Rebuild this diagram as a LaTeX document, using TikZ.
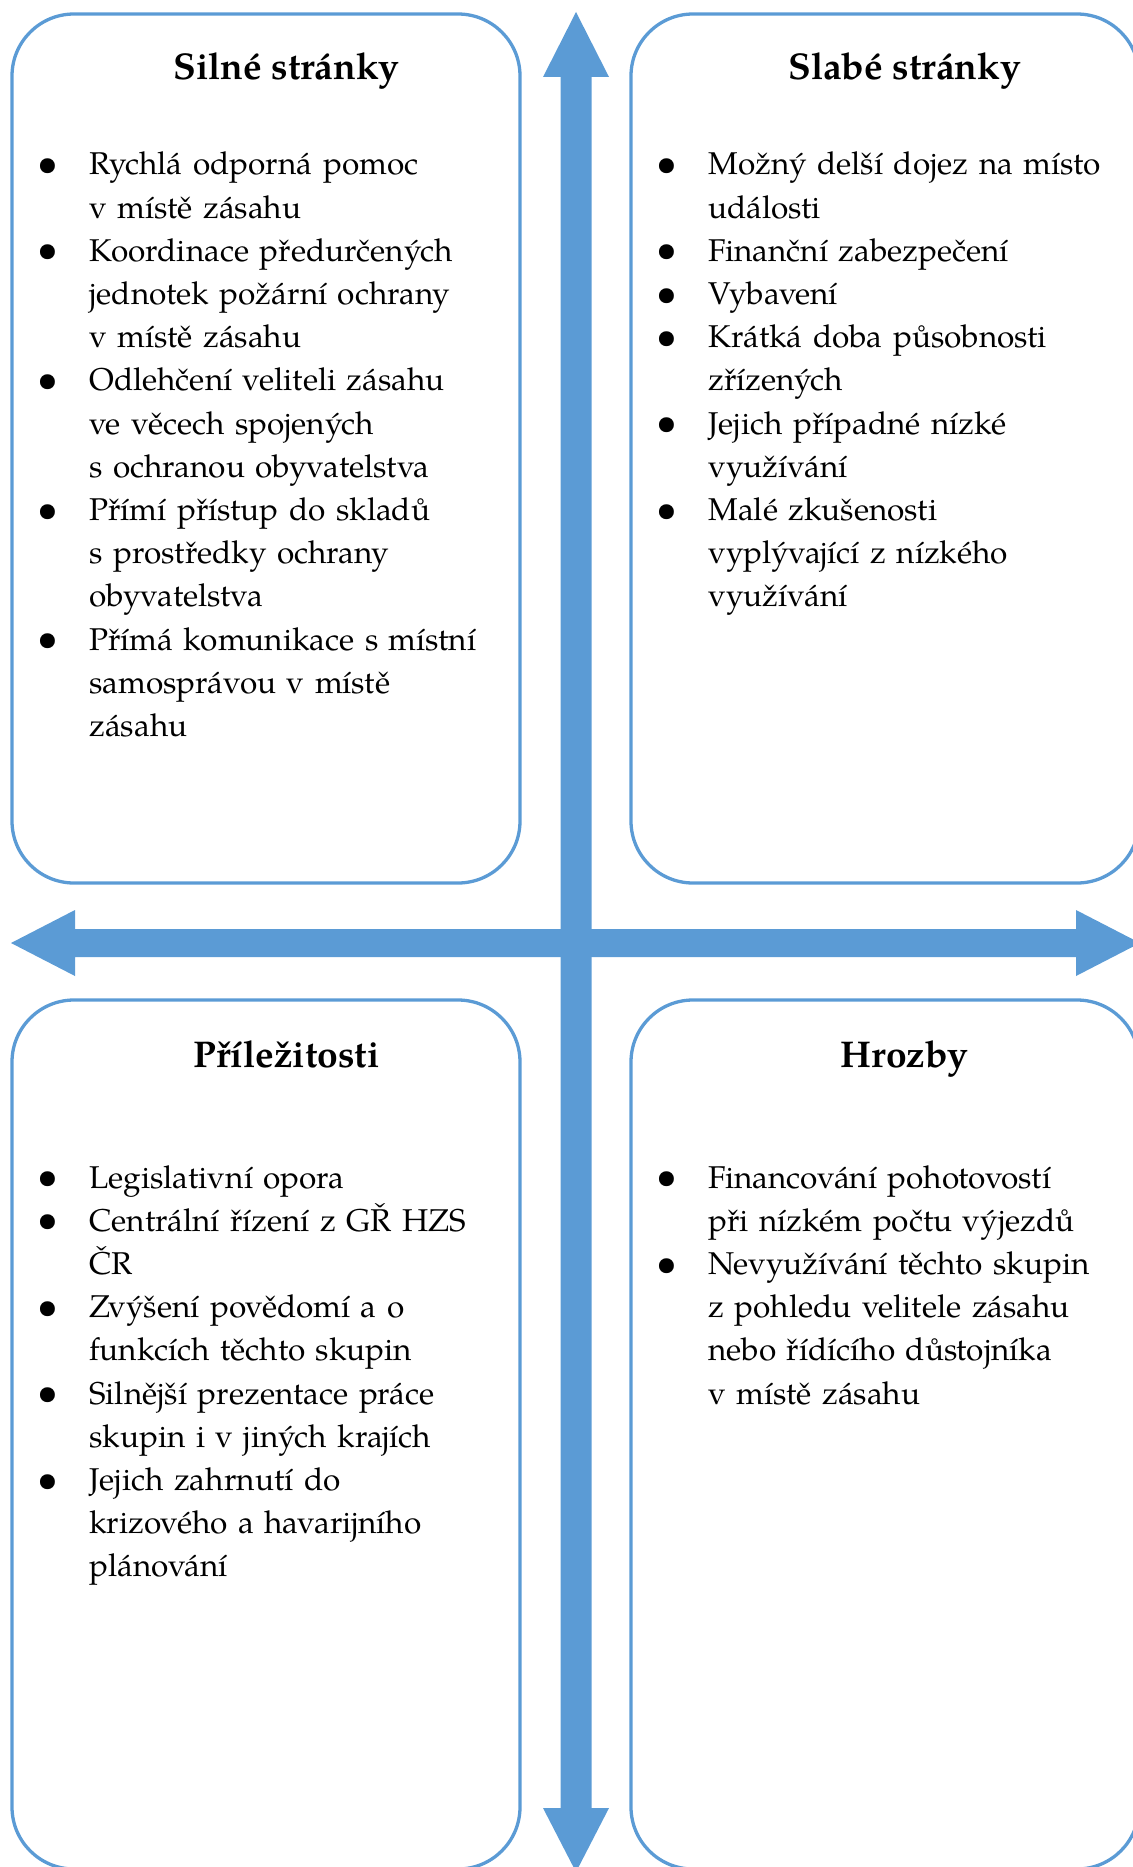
\documentclass[tikz,border=0pt]{standalone}
\usepackage{fontspec}
\setmainfont{texgyrepagella}[Extension=.otf, UprightFont=*-regular, BoldFont=*-bold, ItalicFont=*-italic, BoldItalicFont=*-bolditalic]
\usepackage{tikz}

\definecolor{swotblue}{HTML}{5B9BD5}
\newcommand{\bul}{\leavevmode\llap{\makebox[26pt][l]{\raisebox{-0.3pt}{\scalebox{1.18}{\textbullet}}}}}

\begin{document}
\begin{tikzpicture}[x=0.5pt, y=-0.5pt,
    quad/.style={draw=swotblue, line width=1.65pt, rounded corners=31pt,
      minimum width=254pt, minimum height=434.5pt, inner sep=0pt},
    heading/.style={anchor=base, inner sep=0pt,
      font=\fontsize{18.6pt}{22pt}\selectfont\bfseries},
    items/.style={anchor=base west, text width=215pt, align=left, inner sep=0pt,
      font=\fontsize{15.75pt}{21.6pt}\selectfont}]
  \useasboundingbox (0,0) rectangle (1132,1867);

  % quadrants
  \node[quad] (silne) at (266,448.5) {};
  \node[quad] (slabe) at (885,448.5) {};
  \node[quad] (prilez) at (266,1434.5) {};
  \node[quad] (hrozby) at (885,1434.5) {};

  % horizontal arrow
  \fill[swotblue] (11,943) -- (75,910) -- (75,929) -- (1076,929) -- (1076,910)
    -- (1140,943) -- (1076,976) -- (1076,957) -- (75,957) -- (75,976) -- cycle;

  % vertical arrow
  \fill[swotblue] (576,12) -- (609,77) -- (591.5,77) -- (591.5,1808) -- (609,1808)
    -- (576,1872) -- (543,1808) -- (560.5,1808) -- (560.5,77) -- (543,77) -- cycle;

  % headings
  \node[heading] (silneh) at (286.5,80) {Silné stránky};
  \node[heading] (slabeh) at (904.5,80) {Slabé stránky};
  \node[heading] (prilezh) at (286.5,1067) {Příležitosti};
  \node[heading] (hrozbyh) at (904.5,1067) {Hrozby};

  % S
  \node[items] (silnet) at (89,175) {%
    \bul Rychlá odporná pomoc\\
    v místě zásahu\\
    \bul Koordinace předurčených\\
    jednotek požární ochrany\\
    v místě zásahu\\
    \bul Odlehčení veliteli zásahu\\
    ve věcech spojených\\
    s ochranou obyvatelstva\\
    \bul Přímí přístup do skladů\\
    s prostředky ochrany\\
    obyvatelstva\\
    \bul Přímá komunikace s místní\\
    samosprávou v místě\\
    zásahu};

  % W
  \node[items] (slabet) at (708,175) {%
    \bul Možný delší dojez na místo\\
    události\\
    \bul Finanční zabezpečení\\
    \bul Vybavení\\
    \bul Krátká doba působnosti\\
    zřízených\\
    \bul Jejich případné nízké\\
    využívání\\
    \bul Malé zkušenosti\\
    vyplývající z nízkého\\
    využívání};

  % O
  \node[items] (prilezt) at (89,1188) {%
    \bul Legislativní opora\\
    \bul Centrální řízení z GŘ HZS\\
    ČR\\
    \bul Zvýšení povědomí a o\\
    funkcích těchto skupin\\
    \bul Silnější prezentace práce\\
    skupin i v jiných krajích\\
    \bul Jejich zahrnutí do\\
    krizového a havarijního\\
    plánování};

  % T
  \node[items] (hrozbyt) at (708,1188) {%
    \bul Financování pohotovostí\\
    při nízkém počtu výjezdů\\
    \bul Nevyužívání těchto skupin\\
    z pohledu velitele zásahu\\
    nebo řídícího důstojníka\\
    v místě zásahu};
\end{tikzpicture}
\end{document}
